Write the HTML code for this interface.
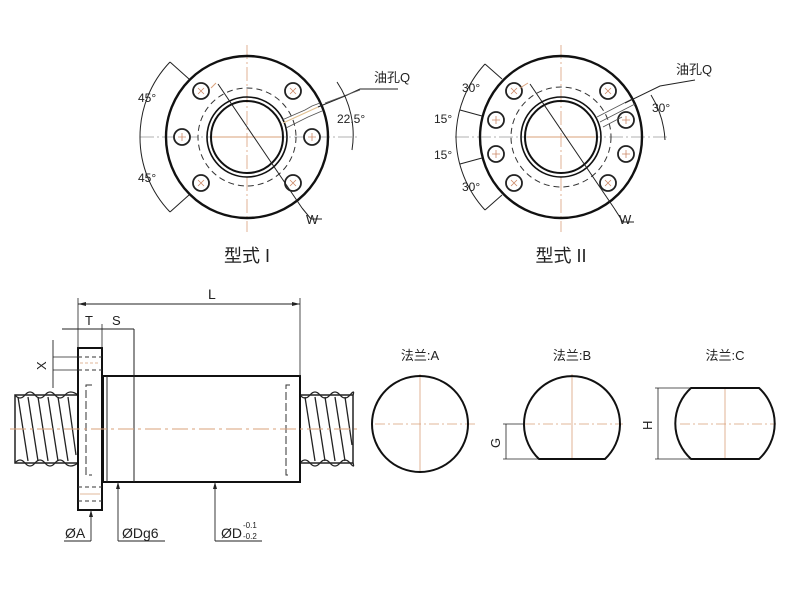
<!DOCTYPE html>
<html><head><meta charset="utf-8"><style>
html,body{margin:0;padding:0;background:#fff;}
svg{display:block;}
text{font-family:"Liberation Sans","Noto Sans CJK SC",sans-serif;fill:#222;}
</style></head><body>
<svg width="800" height="600" viewBox="0 0 800 600" xmlns="http://www.w3.org/2000/svg">
<defs>
<g id="boltx"><circle r="8" fill="#fff" stroke="#222" stroke-width="1.8"/><path d="M-3,-3L3,3M-3,3L3,-3" stroke="#c86" stroke-width="0.8"/></g>
<g id="boltp"><circle r="8" fill="#fff" stroke="#222" stroke-width="1.8"/><path d="M-4,0H4M0,-4V4" stroke="#c86" stroke-width="0.8"/></g>
</defs>

<!-- ===== Type I ===== -->
<g>
<line x1="247" y1="45" x2="247" y2="232" stroke="#d9a07a" stroke-width="0.8" stroke-dasharray="14,3,2,3"/>
<line x1="140" y1="137" x2="360" y2="137" stroke="#999" stroke-width="0.8" stroke-dasharray="14,3,2,3"/>
<circle cx="247" cy="137" r="81" fill="none" stroke="#111" stroke-width="2.4"/>
<circle cx="247" cy="137" r="49" fill="none" stroke="#333" stroke-width="1" stroke-dasharray="6,4"/>
<circle cx="247" cy="137" r="40" fill="none" stroke="#111" stroke-width="1.6"/>
<circle cx="247" cy="137" r="36" fill="none" stroke="#111" stroke-width="2"/>
<line x1="213" y1="137" x2="281" y2="137" stroke="#d9a07a" stroke-width="1"/>
<use href="#boltx" x="201" y="91"/><use href="#boltx" x="293" y="91"/>
<use href="#boltp" x="182" y="137"/><use href="#boltp" x="312" y="137"/>
<use href="#boltx" x="201" y="183"/><use href="#boltx" x="293" y="183"/>
<!-- oil hole -->
<path d="M282,120 L305,110 L312,106 L320,103 M286,128 L308,117 L315,114 L322,111" stroke="#555" stroke-width="0.9" fill="none"/>
<path d="M283,123 L318,107" stroke="#e0c090" stroke-width="1.2"/>
<path d="M318,107 L345,96 L360,89 L398,89" stroke="#222" stroke-width="1" fill="none"/>
<text x="374" y="82" font-size="13">油孔Q</text>
<!-- 22.5 -->
<line x1="325" y1="103" x2="360" y2="90" stroke="#555" stroke-width="0.8"/>
<path d="M337,82 A95,95 0 0 1 352,150" stroke="#222" stroke-width="1" fill="none"/>
<text x="337" y="123" font-size="12">22.5°</text>
<!-- W -->
<line x1="218" y1="84" x2="302" y2="208" stroke="#222" stroke-width="1"/>
<path d="M302,208 L311,219 L322,219" stroke="#222" stroke-width="1" fill="none"/>
<text x="306" y="224" font-size="13">W</text>
<line x1="211" y1="88" x2="216" y2="83" stroke="#d9a07a" stroke-width="1"/>
<!-- 45 arcs -->
<line x1="170" y1="62" x2="189" y2="79" stroke="#222" stroke-width="1"/>
<line x1="170" y1="212" x2="189" y2="195" stroke="#222" stroke-width="1"/>
<path d="M170,62 A108,108 0 0 0 140,137 A108,108 0 0 0 170,212" stroke="#222" stroke-width="1" fill="none"/>
<text x="138" y="102" font-size="12">45°</text>
<text x="138" y="182" font-size="12">45°</text>
<text x="247" y="262" font-size="18" text-anchor="middle">型式 I</text>
</g>

<!-- ===== Type II ===== -->
<g>
<line x1="561" y1="45" x2="561" y2="232" stroke="#d9a07a" stroke-width="0.8" stroke-dasharray="14,3,2,3"/>
<line x1="455" y1="137" x2="668" y2="137" stroke="#999" stroke-width="0.8" stroke-dasharray="14,3,2,3"/>
<circle cx="561" cy="137" r="81" fill="none" stroke="#111" stroke-width="2.4"/>
<circle cx="561" cy="137" r="50" fill="none" stroke="#333" stroke-width="1" stroke-dasharray="6,4"/>
<circle cx="561" cy="137" r="40" fill="none" stroke="#111" stroke-width="1.6"/>
<circle cx="561" cy="137" r="36" fill="none" stroke="#111" stroke-width="2"/>
<line x1="527" y1="137" x2="595" y2="137" stroke="#d9a07a" stroke-width="1"/>
<use href="#boltx" x="514" y="91"/><use href="#boltx" x="608" y="91"/>
<use href="#boltp" x="496" y="120"/><use href="#boltp" x="626" y="120"/>
<use href="#boltp" x="496" y="154"/><use href="#boltp" x="626" y="154"/>
<use href="#boltx" x="514" y="183"/><use href="#boltx" x="608" y="183"/>
<path d="M597,117 L632,99 M600,122 L635,104 M603,127 L622,117" stroke="#555" stroke-width="0.8" fill="none"/>
<path d="M625,103 L660,86 L695,80" stroke="#222" stroke-width="1" fill="none"/>
<text x="676" y="74" font-size="13">油孔Q</text>
<path d="M651,95 A95,95 0 0 1 665,140" stroke="#222" stroke-width="1" fill="none"/>
<text x="652" y="112" font-size="12">30°</text>
<line x1="530" y1="84" x2="614" y2="208" stroke="#222" stroke-width="1"/>
<path d="M614,208 L623,222 L634,222" stroke="#222" stroke-width="1" fill="none"/>
<text x="619" y="224" font-size="13">W</text>
<line x1="520" y1="88" x2="528" y2="83" stroke="#d9a07a" stroke-width="1"/>
<line x1="485" y1="64" x2="502" y2="79" stroke="#222" stroke-width="1"/>
<line x1="460" y1="110" x2="482" y2="116" stroke="#222" stroke-width="1"/>
<line x1="460" y1="164" x2="482" y2="158" stroke="#222" stroke-width="1"/>
<line x1="485" y1="210" x2="502" y2="195" stroke="#222" stroke-width="1"/>
<path d="M485,64 A110,110 0 0 0 456,137 A110,110 0 0 0 485,210" stroke="#222" stroke-width="1" fill="none"/>
<text x="462" y="92" font-size="12">30°</text>
<text x="434" y="123" font-size="12">15°</text>
<text x="434" y="159" font-size="12">15°</text>
<text x="462" y="191" font-size="12">30°</text>
<text x="561" y="262" font-size="18" text-anchor="middle">型式 II</text>
</g>

<!-- ===== Side view ===== -->
<g>
<!-- screws -->
<rect x="15" y="395" width="63" height="68" fill="#fff" stroke="#222" stroke-width="1.5"/>
<g stroke="#222" stroke-width="1.3" fill="none">
<path d="M15,395 q5,6 10,0 t10,0 t10,0 t10,0 t10,0 t13,0"/>
<path d="M15,463 q5,-6 10,0 t10,0 t10,0 t10,0 t10,0 t13,0"/>
<path d="M18,397 L28,461 M28,397 L38,461 M38,397 L48,461 M48,397 L58,461 M58,397 L68,461 M68,397 L76,455"/>
</g>
<rect x="300" y="395" width="53" height="68" fill="#fff" stroke="#222" stroke-width="1.5"/>
<g stroke="#222" stroke-width="1.3" fill="none">
<path d="M300,395 q5,6 10,0 t10,0 t10,0 t10,0 t10,0 t3,0"/>
<path d="M300,463 q5,-6 10,0 t10,0 t10,0 t10,0 t10,0 t3,0"/>
<path d="M305,397 L315,461 M315,397 L325,461 M325,397 L335,461 M335,397 L345,461 M345,397 L352,445"/>
</g>
<!-- body -->
<rect x="103" y="376" width="197" height="106" fill="#fff" stroke="#111" stroke-width="2"/>
<line x1="107" y1="376" x2="107" y2="482" stroke="#222" stroke-width="1"/>
<line x1="134" y1="329" x2="134" y2="482" stroke="#222" stroke-width="1"/>
<!-- flange -->
<rect x="78" y="348" width="24" height="162" fill="#fff" stroke="#111" stroke-width="2"/>
<g stroke="#333" stroke-width="1" stroke-dasharray="4,3">
<line x1="78" y1="357" x2="102" y2="357"/><line x1="78" y1="370" x2="102" y2="370"/>
<line x1="78" y1="487" x2="102" y2="487"/><line x1="78" y1="501" x2="102" y2="501"/>
</g>
<line x1="80" y1="363" x2="100" y2="363" stroke="#d9a07a" stroke-width="0.8" stroke-dasharray="3,2"/>
<line x1="80" y1="494" x2="100" y2="494" stroke="#d9a07a" stroke-width="0.8"/>
<path d="M92,385 H86 V475 H92" stroke="#333" stroke-width="1" fill="none" stroke-dasharray="8,3"/>
<path d="M290,385 H286 V475 H290" stroke="#333" stroke-width="1" fill="none" stroke-dasharray="8,3"/>
<!-- centerline -->
<line x1="10" y1="429" x2="358" y2="429" stroke="#d9a07a" stroke-width="1" stroke-dasharray="16,4,3,4"/>
<!-- dimensions -->
<line x1="78" y1="298" x2="78" y2="348" stroke="#222" stroke-width="0.8"/>
<line x1="300" y1="298" x2="300" y2="376" stroke="#222" stroke-width="0.8"/>
<line x1="78" y1="304" x2="300" y2="304" stroke="#222" stroke-width="0.9"/>
<path d="M78,304 l8,-2 v4z M300,304 l-8,-2 v4z" fill="#222"/>
<text x="208" y="299" font-size="14">L</text>
<line x1="62" y1="329" x2="134" y2="329" stroke="#222" stroke-width="0.9"/>
<line x1="102" y1="324" x2="102" y2="348" stroke="#222" stroke-width="0.8"/>
<text x="85" y="325" font-size="13">T</text>
<text x="112" y="325" font-size="13">S</text>
<line x1="53" y1="340" x2="53" y2="388" stroke="#222" stroke-width="0.9"/>
<line x1="53" y1="357" x2="78" y2="357" stroke="#222" stroke-width="0.8"/>
<line x1="53" y1="370" x2="78" y2="370" stroke="#222" stroke-width="0.8"/>
<text x="0" y="0" font-size="13" transform="translate(46,370) rotate(-90)">X</text>
<line x1="91" y1="510" x2="91" y2="541" stroke="#222" stroke-width="0.9"/>
<path d="M91,510 l-2,7 h4z" fill="#222"/>
<line x1="64" y1="541" x2="91" y2="541" stroke="#222" stroke-width="0.9"/>
<text x="65" y="538" font-size="14">ØA</text>
<line x1="118" y1="482" x2="118" y2="541" stroke="#222" stroke-width="0.9"/>
<path d="M118,482 l-2,7 h4z" fill="#222"/>
<line x1="118" y1="541" x2="165" y2="541" stroke="#222" stroke-width="0.9"/>
<text x="122" y="538" font-size="14">ØDg6</text>
<line x1="215" y1="482" x2="215" y2="541" stroke="#222" stroke-width="0.9"/>
<path d="M215,482 l-2,7 h4z" fill="#222"/>
<line x1="215" y1="541" x2="262" y2="541" stroke="#222" stroke-width="0.9"/>
<text x="221" y="538" font-size="14">ØD</text>
<text x="243" y="528" font-size="8">-0.1</text>
<text x="243" y="539" font-size="8">-0.2</text>
</g>

<!-- ===== Flange shapes ===== -->
<g>
<text x="420" y="360" font-size="13" text-anchor="middle">法兰:A</text>
<text x="572" y="360" font-size="13" text-anchor="middle">法兰:B</text>
<text x="725" y="360" font-size="13" text-anchor="middle">法兰:C</text>
<line x1="420" y1="374" x2="420" y2="472" stroke="#d9a07a" stroke-width="0.8"/>
<line x1="375" y1="424" x2="475" y2="424" stroke="#d9a07a" stroke-width="0.8" stroke-dasharray="10,3,2,3"/>
<circle cx="420" cy="424" r="48" fill="none" stroke="#111" stroke-width="2"/>

<line x1="572" y1="374" x2="572" y2="459" stroke="#d9a07a" stroke-width="0.8"/>
<line x1="525" y1="424" x2="623" y2="424" stroke="#d9a07a" stroke-width="0.8" stroke-dasharray="10,3,2,3"/>
<path d="M539,459 A48,48 0 1 1 605,459 Z" fill="none" stroke="#111" stroke-width="2"/>
<line x1="503" y1="424" x2="525" y2="424" stroke="#222" stroke-width="0.8"/>
<line x1="503" y1="459" x2="539" y2="459" stroke="#222" stroke-width="0.8"/>
<line x1="506" y1="424" x2="506" y2="459" stroke="#222" stroke-width="0.8"/>
<text x="0" y="0" font-size="13" transform="translate(500,448) rotate(-90)">G</text>

<line x1="725" y1="388" x2="725" y2="459" stroke="#d9a07a" stroke-width="0.8"/>
<line x1="680" y1="424" x2="776" y2="424" stroke="#d9a07a" stroke-width="0.8" stroke-dasharray="10,3,2,3"/>
<path d="M691,388 H759 A48,48 0 0 1 759,459 H691 A48,48 0 0 1 691,388 Z" fill="none" stroke="#111" stroke-width="2"/>
<line x1="655" y1="388" x2="691" y2="388" stroke="#222" stroke-width="0.8"/>
<line x1="655" y1="459" x2="691" y2="459" stroke="#222" stroke-width="0.8"/>
<line x1="658" y1="388" x2="658" y2="459" stroke="#222" stroke-width="0.8"/>
<text x="0" y="0" font-size="13" transform="translate(652,430) rotate(-90)">H</text>
</g>
</svg>
</body></html>
